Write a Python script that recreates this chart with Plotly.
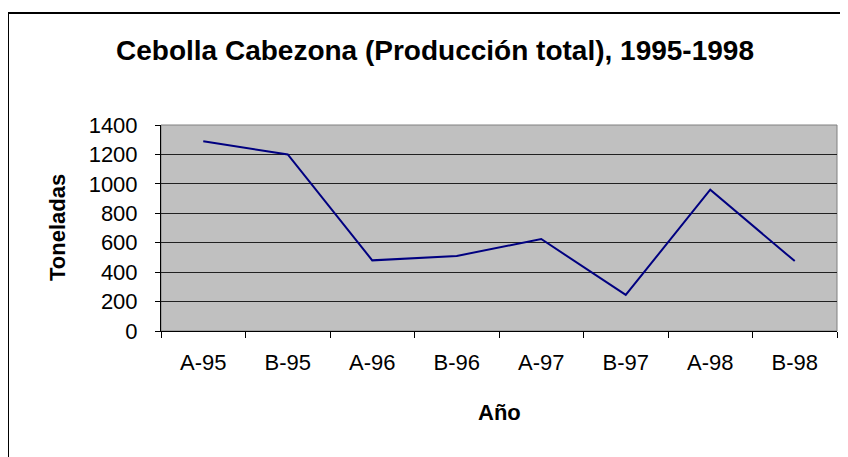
import plotly.graph_objects as go

# Producción total por semestre (toneladas)
periodos = ["A-95", "B-95", "A-96", "B-96", "A-97", "B-97", "A-98", "B-98"]
toneladas = [1290, 1200, 480, 510, 625, 245, 960, 475]
y_ticks = [0, 200, 400, 600, 800, 1000, 1200, 1400]

W, H = 848, 457
OFF = 8  # margen por defecto del body en la página
# área de trazado en píxeles de la ventana
PL, PR, PT, PB = 161, 837, 125, 331
L, R, T, B = PL - OFF, W - (PR - OFF), PT - OFF, H - (PB - OFF)
pw, ph = PR - PL, PB - PT

fuente = "Liberation Sans, Arial, sans-serif"


def px_x(p):
    return (p - PL) / pw


def px_y(p):
    return (PB - p) / ph


fig = go.Figure()
fig.add_trace(go.Scatter(x=periodos, y=toneladas, mode="lines",
                         line=dict(color="#000080", width=2), showlegend=False))

# borde exterior del gráfico (estilo Excel, cortado a la derecha y abajo)
fig.add_shape(type="rect", xref="paper", yref="paper",
              x0=px_x(8), x1=px_x(W + 20), y0=px_y(H + 20), y1=px_y(13),
              line=dict(color="black", width=2), layer="below")
# borde del área de trazado
fig.add_shape(type="rect", xref="paper", yref="paper", x0=0, x1=1, y0=0, y1=1,
              line=dict(color="#808080", width=1), layer="below")

# títulos de ejes
fig.add_annotation(text="<b>Año</b>", xref="paper", yref="paper",
                   x=px_x(500), y=0, yanchor="middle", xanchor="center",
                   yshift=-81, showarrow=False, font=dict(size=22))
fig.add_annotation(text="<b>Toneladas</b>", xref="paper", yref="paper",
                   x=0, y=px_y(228), xanchor="center", yanchor="middle",
                   xshift=57 - PL, textangle=-90, showarrow=False,
                   font=dict(size=22))

fig.update_layout(
    width=W, height=H,
    margin=dict(l=L, r=R, t=T, b=B),
    paper_bgcolor="white", plot_bgcolor="#C0C0C0",
    font=dict(family=fuente, color="black", size=22),
    title=dict(text="<b>Cebolla Cabezona (Producción total), 1995-1998</b>",
               x=(435 - OFF) / W, xanchor="center", xref="container",
               y=1 - (50 - OFF) / H, yanchor="middle", yref="container",
               font=dict(size=28)),
)
fig.update_xaxes(type="category", range=[-0.5, 7.5], tickson="boundaries",
                 ticks="outside", ticklen=6, tickcolor="black",
                 showline=True, linecolor="black", linewidth=1,
                 showgrid=False, zeroline=False, ticklabelstandoff=12,
                 tickfont=dict(size=22))
fig.update_yaxes(range=[0, 1400], tickvals=y_ticks,
                 ticks="outside", ticklen=5, tickcolor="black",
                 showline=True, linecolor="black", linewidth=1,
                 showgrid=True, gridcolor="#202020", gridwidth=1,
                 zeroline=False, ticklabelstandoff=13,
                 tickfont=dict(size=22))

fig.write_html("out.html")
